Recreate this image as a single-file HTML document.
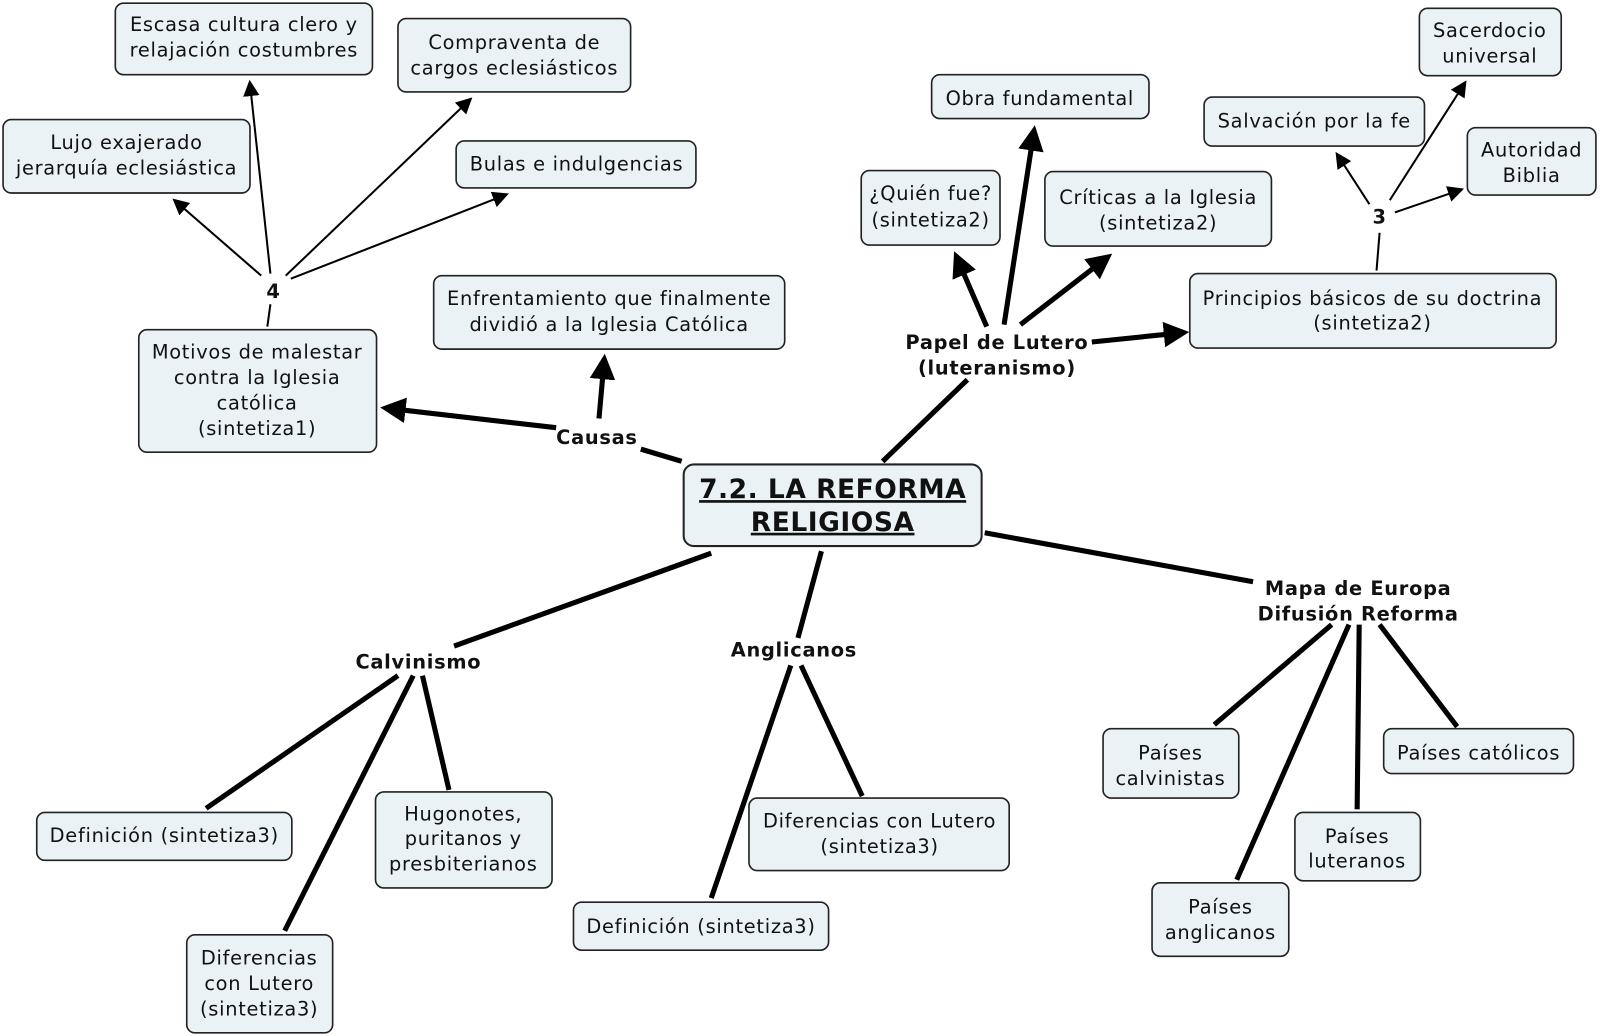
<!DOCTYPE html>
<html><head><meta charset="utf-8"><style>
html,body{margin:0;padding:0;background:#fff;width:1600px;height:1036px;overflow:hidden}
svg text{font-family:"DejaVu Sans","Liberation Sans",sans-serif;font-size:19px;fill:#111;text-anchor:middle;letter-spacing:0.7px}
.b{fill:#ebf2f5;stroke:#222;stroke-width:1.6}
.l{font-weight:bold}
</style></head><body>
<svg width="1600" height="1036" viewBox="0 0 1568 1015" xmlns="http://www.w3.org/2000/svg">
<defs>
<marker id="a" markerWidth="8" markerHeight="8" refX="6" refY="4" orient="auto" markerUnits="strokeWidth"><path d="M0,0 L8,4 L0,8 z" fill="#000"/></marker>
<marker id="t" markerWidth="5" markerHeight="5" refX="3.5" refY="2.5" orient="auto" markerUnits="strokeWidth"><path d="M0,0 L5,2.5 L0,5 z" fill="#000"/></marker>
</defs>
<g stroke="#000" stroke-width="2" fill="none">
<line x1="262" y1="320" x2="265" y2="298"/>
<line x1="256" y1="270" x2="172" y2="197" marker-end="url(#a)"/>
<line x1="265" y1="268" x2="245" y2="82" marker-end="url(#a)"/>
<line x1="280" y1="270" x2="460" y2="98" marker-end="url(#a)"/>
<line x1="285" y1="273" x2="495" y2="191" marker-end="url(#a)"/>
<line x1="1349" y1="265" x2="1352" y2="228"/>
<line x1="1342" y1="200" x2="1311" y2="152" marker-end="url(#a)"/>
<line x1="1362" y1="196" x2="1435" y2="82" marker-end="url(#a)"/>
<line x1="1367" y1="208" x2="1431" y2="186" marker-end="url(#a)"/>
</g>
<g stroke="#000" stroke-width="5" fill="none">
<line x1="668" y1="452" x2="628" y2="440"/>
<line x1="545" y1="419" x2="380" y2="400" marker-end="url(#t)"/>
<line x1="587" y1="410" x2="592" y2="354" marker-end="url(#t)"/>
<line x1="865" y1="452" x2="948" y2="372"/>
<line x1="967" y1="320" x2="938" y2="253" marker-end="url(#t)"/>
<line x1="984" y1="318" x2="1013" y2="130" marker-end="url(#t)"/>
<line x1="1000" y1="318" x2="1084" y2="253" marker-end="url(#t)"/>
<line x1="1070" y1="335" x2="1158" y2="326" marker-end="url(#t)"/>
<line x1="697" y1="542" x2="445" y2="633"/>
<line x1="390" y1="662" x2="202" y2="792"/>
<line x1="405" y1="662" x2="279" y2="912"/>
<line x1="414" y1="662" x2="440" y2="774"/>
<line x1="805" y1="540" x2="782" y2="625"/>
<line x1="775" y1="652" x2="697" y2="880"/>
<line x1="785" y1="652" x2="845" y2="780"/>
<line x1="965" y1="522" x2="1228" y2="570"/>
<line x1="1305" y1="612" x2="1190" y2="710"/>
<line x1="1322" y1="612" x2="1212" y2="862"/>
<line x1="1332" y1="612" x2="1330" y2="793"/>
<line x1="1352" y1="612" x2="1428" y2="712"/>
</g>
<rect class="b" x="113" y="3" width="252" height="70" rx="8"/><text x="239" y="30">Escasa cultura clero y</text><text x="239" y="55">relajación costumbres</text>
<rect class="b" x="390" y="18" width="228" height="72" rx="8"/><text x="504" y="48">Compraventa de</text><text x="504" y="73">cargos eclesiásticos</text>
<rect class="b" x="3" y="117" width="242" height="72" rx="8"/><text x="124" y="146">Lujo exajerado</text><text x="124" y="171">jerarquía eclesiástica</text>
<rect class="b" x="447" y="138" width="235" height="46" rx="8"/><text x="565" y="167">Bulas e indulgencias</text>
<rect class="b" x="425" y="270" width="344" height="72" rx="8"/><text x="597" y="299">Enfrentamiento que finalmente</text><text x="597" y="324">dividió a la Iglesia Católica</text>
<rect class="b" x="136" y="323" width="233" height="120" rx="8"/><text x="252" y="351">Motivos de malestar</text><text x="252" y="376">contra la Iglesia</text><text x="252" y="401">católica</text><text x="252" y="426">(sintetiza1)</text>
<rect class="b" x="913" y="73" width="213" height="43" rx="8"/><text x="1019" y="103">Obra fundamental</text>
<rect class="b" x="844" y="167" width="136" height="73" rx="8"/><text x="912" y="196">¿Quién fue?</text><text x="912" y="222">(sintetiza2)</text>
<rect class="b" x="1024" y="168" width="222" height="73" rx="8"/><text x="1135" y="200">Críticas a la Iglesia</text><text x="1135" y="225">(sintetiza2)</text>
<rect class="b" x="1180" y="95" width="216" height="48" rx="8"/><text x="1288" y="125">Salvación por la fe</text>
<rect class="b" x="1391" y="8" width="139" height="66" rx="8"/><text x="1460" y="36">Sacerdocio</text><text x="1460" y="61">universal</text>
<rect class="b" x="1438" y="125" width="126" height="66" rx="8"/><text x="1501" y="153">Autoridad</text><text x="1501" y="178">Biblia</text>
<rect class="b" x="1166" y="268" width="359" height="73" rx="8"/><text x="1345" y="299">Principios básicos de su doctrina</text><text x="1345" y="323">(sintetiza2)</text>
<rect class="b" x="670" y="455" width="292" height="80" rx="10" style="stroke-width:2"/>
<text x="816" y="488" style="font-size:26px;font-weight:bold;text-decoration:underline;letter-spacing:0.5px">7.2. LA REFORMA</text>
<text x="816" y="520" style="font-size:26px;font-weight:bold;text-decoration:underline;letter-spacing:0.5px">RELIGIOSA</text>
<rect class="b" x="36" y="796" width="250" height="47" rx="8"/><text x="161" y="825">Definición (sintetiza3)</text>
<rect class="b" x="368" y="776" width="173" height="94" rx="8"/><text x="454" y="804">Hugonotes,</text><text x="454" y="828">puritanos y</text><text x="454" y="853">presbiterianos</text>
<rect class="b" x="183" y="916" width="143" height="96" rx="8"/><text x="254" y="945">Diferencias</text><text x="254" y="970">con Lutero</text><text x="254" y="995">(sintetiza3)</text>
<rect class="b" x="734" y="782" width="255" height="71" rx="8"/><text x="862" y="811">Diferencias con Lutero</text><text x="862" y="836">(sintetiza3)</text>
<rect class="b" x="562" y="884" width="250" height="47" rx="8"/><text x="687" y="914">Definición (sintetiza3)</text>
<rect class="b" x="1081" y="714" width="133" height="68" rx="8"/><text x="1147" y="744">Países</text><text x="1147" y="769">calvinistas</text>
<rect class="b" x="1356" y="714" width="186" height="44" rx="8"/><text x="1449" y="744">Países católicos</text>
<rect class="b" x="1269" y="796" width="123" height="67" rx="8"/><text x="1330" y="826">Países</text><text x="1330" y="850">luteranos</text>
<rect class="b" x="1129" y="865" width="134" height="72" rx="8"/><text x="1196" y="895">Países</text><text x="1196" y="920">anglicanos</text>
<text class="l" x="268" y="292">4</text>
<text class="l" x="585" y="435">Causas</text>
<text class="l" x="977" y="342">Papel de Lutero</text>
<text class="l" x="977" y="367">(luteranismo)</text>
<text class="l" x="1352" y="219">3</text>
<text class="l" x="410" y="655">Calvinismo</text>
<text class="l" x="778" y="643">Anglicanos</text>
<text class="l" x="1331" y="583">Mapa de Europa</text>
<text class="l" x="1331" y="608">Difusión Reforma</text>
</svg>
</body></html>
